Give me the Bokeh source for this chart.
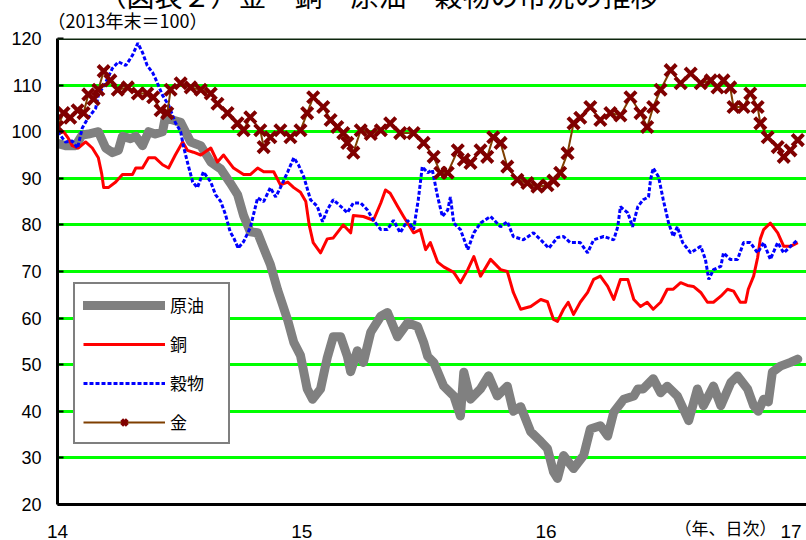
from bokeh.plotting import figure
from bokeh.models import Legend, LegendItem, Span, FixedTicker, ColumnDataSource, Title
from bokeh.embed import file_html
from bokeh.resources import INLINE

# Index values (end of 2013 = 100); x is days since 2013-12-31
oil_day = [0, 12, 27, 37, 46, 61, 72, 82, 91, 97, 109, 117, 127, 136, 146, 157, 161, 172, 184, 199,
           214, 229, 244, 258, 269, 278, 288, 299, 308, 318, 329, 336, 344, 353, 363, 373, 381, 393, 403, 412,
           423, 433, 438, 448, 457, 468, 483, 493, 508, 523, 538, 547, 553, 562, 577, 592, 602, 607, 617, 632,
           644, 657, 672, 681, 692, 707, 722, 732, 741, 747, 756, 771, 786, 796, 811, 822, 831, 846, 861, 867,
           875, 890, 901, 911, 926, 935, 943, 956, 965, 980, 991, 1006, 1016, 1031, 1040, 1047, 1055, 1062, 1068, 1080,
           1095, 1106]
oil_val = [97.5, 97, 97, 99.3, 99.5, 100, 96.5, 95.5, 96, 99, 98.5, 99, 97, 100, 99.5, 100, 103, 102.5, 102, 97.8,
           97, 93.5, 92, 89, 86.5, 82, 78.5, 78.3, 75, 71.5, 66, 63, 59.5, 54.8, 52, 44.8, 42.6, 44.8, 51.5, 56,
           56, 51.8, 48.5, 53, 50.5, 57, 60.4, 61.2, 56, 59, 58.2, 54.8, 51.8, 50.5, 45.4, 43.3, 39, 48.4, 42.6, 44.8,
           47.6, 43.3, 45.4, 40, 41, 35.6, 33.5, 32, 27, 25.6, 30.5, 27.7, 30.5, 36.2, 36.9, 34.7, 39.8, 42.6, 43.3, 44.8,
           44.8, 47, 44, 45.4, 43.3, 40.5, 38, 44.8, 41.2, 45.4, 41.2, 46.2, 47.6, 44.8, 41.2, 40, 42.6, 42, 48.4, 49.7,
           50.5, 51.2]

cu_day = [0, 9, 16, 22, 31, 42, 52, 61, 66, 69, 76, 87, 97, 112, 117, 127, 136, 146, 157, 166,
          176, 187, 194, 203, 214, 229, 239, 248, 263, 278, 288, 299, 308, 323, 333, 344, 353, 363, 371, 376,
          382, 393, 403, 412, 427, 438, 442, 457, 472, 483, 490, 497, 508, 517, 532, 542, 550, 557, 568, 577,
          592, 602, 613, 622, 632, 647, 662, 672, 681, 692, 707, 722, 732, 741, 747, 756, 763, 771, 781, 792,
          801, 811, 822, 831, 841, 852, 861, 871, 881, 890, 901, 911, 920, 931, 941, 950, 961, 971, 980, 991,
          1001, 1010, 1020, 1028, 1032, 1040, 1046, 1050, 1055, 1065, 1076, 1085, 1095, 1106]
cu_val = [99.5, 100, 98.6, 97, 96.5, 97.8, 96.5, 94.4, 91, 88, 88, 89.2, 90.8, 90.8, 92.2, 92.2, 94.4, 94.4, 92.9, 92.2,
          95, 97.8, 96, 95.6, 95, 96.5, 93.5, 95, 92.2, 90.8, 90.8, 92.2, 91.4, 91.4, 88.6, 89.2, 88, 87, 85, 80,
          76.2, 74, 77, 77.2, 80, 78.3, 82, 81.8, 81, 84.7, 87.5, 86.8, 84, 81.8, 78.3, 79, 74.7, 76.2, 72, 71,
          69.8, 67.6, 70.4, 73.2, 69, 72.6, 70.4, 70, 65.5, 61.9, 62.5, 64, 63.5, 59.7, 59.3, 61.9, 63.4, 60.8, 63.4, 65.5,
          68.3, 69, 66.8, 64, 68.3, 68.3, 64, 62.5, 63.4, 61.9, 63.4, 66.2, 66.2, 67.6, 67, 66.8, 65.5, 63.4, 63.4, 64.7,
          66.2, 65.8, 63.4, 63.4, 66.2, 69, 73, 77, 79, 80.4, 78.3, 75.4, 75.4, 76.2]

grain_day = [0, 12, 22, 30, 37, 46, 57, 61, 72, 82, 91, 102, 112, 120, 127, 134, 142, 146, 157, 166,
             176, 184, 188, 194, 202, 209, 218, 229, 236, 244, 251, 258, 263, 270, 278, 288, 299, 308, 318, 326,
             333, 344, 353, 360, 368, 378, 388, 396, 403, 412, 423, 433, 442, 453, 463, 472, 483, 493, 502, 512,
             523, 532, 539, 545, 553, 560, 568, 575, 583, 587, 592, 602, 613, 622, 632, 647, 662, 672, 681, 696,
             711, 722, 734, 747, 756, 766, 781, 792, 801, 816, 831, 837, 841, 852, 859, 867, 875, 883, 886, 890,
             898, 905, 913, 920, 926, 934, 946, 961, 968, 973, 980, 991, 995, 1005, 1016, 1025, 1035, 1046, 1055, 1065,
             1076, 1085, 1095, 1106]
grain_val = [100, 97.8, 98, 96.5, 100.8, 103, 105, 107.8, 110.6, 113.6, 115, 114.2, 116.4, 119, 117, 114.2, 112.7, 111.5, 107.8, 105.7,
             102, 100, 97, 93.5, 89.2, 88, 91.4, 89.2, 86.5, 85, 82.2, 78.5, 77.3, 75, 76.4, 79.4, 85.8, 85, 88, 86,
             88, 91.4, 94.4, 92.9, 90.3, 85.4, 84, 80.7, 83.2, 85.4, 84, 82.6, 84.7, 84.7, 83.2, 81, 79, 79, 81, 78.3,
             81, 79, 85.4, 92.5, 91.2, 91.8, 86, 81.8, 83.2, 86, 80.4, 79, 74.7, 78.3, 80.4, 81.8, 79.6, 80.7, 77.5, 76.8,
             78.3, 76.8, 75, 77.3, 77.5, 76.2, 76.2, 74, 76.8, 77.5, 76.8, 79.6, 83.9, 82.6, 79.6, 83.9, 85.4, 86, 89.7, 92.2,
             90.3, 85.4, 80.4, 77.5, 79.6, 76.2, 74, 75.4, 72.6, 68.3, 70.4, 71.1, 74, 72.6, 72.6, 76.2, 76.2, 74, 76.2, 72.6,
             76.2, 74, 75.4, 76.8]

gold_day = [0, 9, 19, 30, 39, 46, 54, 61, 69, 79, 90, 105, 120, 134, 143, 154, 164, 169, 184, 199,
            214, 229, 239, 254, 269, 278, 288, 303, 308, 318, 333, 348, 363, 373, 382, 397, 408, 418, 427, 433,
            442, 453, 468, 483, 497, 512, 532, 547, 562, 572, 583, 598, 607, 617, 632, 642, 651, 662, 672, 687,
            702, 717, 732, 741, 751, 762, 771, 781, 796, 811, 826, 841, 856, 871, 881, 890, 901, 916, 931, 946,
            961, 976, 986, 995, 1005, 1010, 1025, 1035, 1046, 1050, 1061, 1076, 1085, 1095, 1106]
gold_val = [101, 104, 103, 104.6, 104, 108, 107, 109, 113, 111, 109, 109.5, 108.2, 108.2, 107.4, 104.6, 104, 109, 110.4, 109.5,
            109, 108.2, 106, 104, 101.8, 100.3, 103.1, 100.3, 96.7, 98.8, 100.3, 98.8, 100.3, 104, 107.4, 105.3, 102.5, 101, 99.7, 97.6,
            95.5, 100.3, 99.5, 100.3, 101.8, 99.7, 99.7, 97.6, 94.6, 91.2, 91.2, 96, 94, 93.3, 96, 94.6, 98.8, 97.6, 92.5, 89.7,
            89, 88.2, 88.5, 89.5, 91.2, 95.4, 101.8, 103, 105.3, 102.5, 104, 103.5, 107.4, 104, 101, 105.3, 109, 113.2, 110.4, 112.5,
            110.4, 111, 109.5, 111, 109.5, 105.3, 105.3, 108.2, 105.3, 101.8, 98.8, 96.7, 94.6, 96, 98.2]

series_names = ["原油", "銅", "穀物", "金"]
year_tick_day = [0, 365, 730, 1096]
year_tick_label = ["14", "15", "16", "17"]
y_ticks = [20, 30, 40, 50, 60, 70, 80, 90, 100, 110, 120]

TOP_CUT = 14  # the canvas is shifted up so the headline runs off the top edge

p = figure(width=806, height=540 + TOP_CUT, x_range=(0, 1119), y_range=(20, 120),
           output_backend="svg", toolbar_location=None,
           min_border_left=57, min_border_right=0, min_border_top=38 + TOP_CUT, min_border_bottom=36,
           styles={"margin-top": f"-{TOP_CUT}px"})
p.outline_line_color = None
p.background_fill_color = "white"
p.border_fill_color = "white"

# headline (outermost) and unit note (next to the plot)
p.title.text = "（図表２）金・銅・原油・穀物の市況の推移"
p.title.align = "left"
p.title.offset = 41
p.title.text_font = "Noto Sans CJK JP"
p.title.text_font_size = "28px"
p.title.text_font_style = "normal"
p.title.text_color = "black"
p.title.standoff = -30
p.add_layout(Title(text="（2013年末＝100）", align="left", offset=-10,
                   text_font="Noto Sans CJK JP", text_font_size="18px", text_font_style="normal",
                   text_color="black", standoff=11), "above")

# axes
p.xaxis.ticker = FixedTicker(ticks=year_tick_day)
p.xaxis.major_label_overrides = {d: s for d, s in zip(year_tick_day, year_tick_label)}
p.xaxis.major_tick_line_color = None
p.xaxis.minor_tick_line_color = None
p.xaxis.axis_line_color = "black"
p.xaxis.axis_line_width = 3
p.xaxis.major_label_standoff = 14
p.xaxis.major_label_text_font = "Liberation Sans Narrow, Liberation Sans"
p.xaxis.major_label_text_font_size = "19px"
p.xaxis.major_label_text_color = "black"

# frequency note on the tick-label row, right-aligned before the last year
p.add_layout(Title(text="（年、日次）", align="right", offset=30, vertical_align="top",
                   text_font="Noto Sans CJK JP", text_font_size="17px", text_font_style="normal",
                   text_color="black", standoff=-52), "below")

p.yaxis.ticker = FixedTicker(ticks=y_ticks)
p.yaxis.minor_tick_line_color = None
p.yaxis.major_tick_in = 6
p.yaxis.major_tick_out = 0
p.yaxis.major_tick_line_width = 2
p.yaxis.major_tick_line_color = "black"
p.yaxis.axis_line_color = "black"
p.yaxis.axis_line_width = 3
p.yaxis.major_label_standoff = 16
p.yaxis.major_label_text_font = "Liberation Sans"
p.yaxis.major_label_text_font_size = "18px"
p.yaxis.major_label_text_color = "black"

p.xgrid.grid_line_color = None
p.ygrid.ticker = FixedTicker(ticks=y_ticks)
p.ygrid.grid_line_color = "#00FF00"
p.ygrid.grid_line_width = 3

p.add_layout(Span(location=120, dimension="width", line_color="#0d260d", line_width=3))

# series
oil = p.line(x="d", y="v", source=ColumnDataSource(dict(d=oil_day, v=oil_val)),
             line_color="#808080", line_width=9, line_join="round", line_cap="round")
cu = p.line(x="d", y="v", source=ColumnDataSource(dict(d=cu_day, v=cu_val)),
            line_color="#FF0000", line_width=3, line_join="round")
grain = p.line(x="d", y="v", source=ColumnDataSource(dict(d=grain_day, v=grain_val)),
               line_color="#0000FF", line_width=3, line_dash="4 2")
gold_src = ColumnDataSource(dict(d=gold_day, v=gold_val))
gold_line = p.line(x="d", y="v", source=gold_src, line_color="#7F3F00", line_width=2)
gold_mark = p.scatter(x="d", y="v", source=gold_src, marker="x", size=16,
                      line_color="#800000", line_width=4)

legend = Legend(items=[
    LegendItem(label=series_names[0], renderers=[oil]),
    LegendItem(label=series_names[1], renderers=[cu]),
    LegendItem(label=series_names[2], renderers=[grain]),
    LegendItem(label=series_names[3], renderers=[gold_line, gold_mark]),
], location=(16, 60))
legend.border_line_color = "black"
legend.border_line_width = 2
legend.background_fill_color = "white"
legend.background_fill_alpha = 1
legend.padding = 8
legend.spacing = 14
legend.glyph_width = 82
legend.glyph_height = 20
legend.label_height = 20
legend.label_width = 50
legend.label_standoff = 5
legend.label_text_font = "Noto Sans CJK JP"
legend.label_text_font_size = "17px"
legend.label_text_color = "black"
p.add_layout(legend)

open("out.html", "w").write(file_html(p, INLINE))
